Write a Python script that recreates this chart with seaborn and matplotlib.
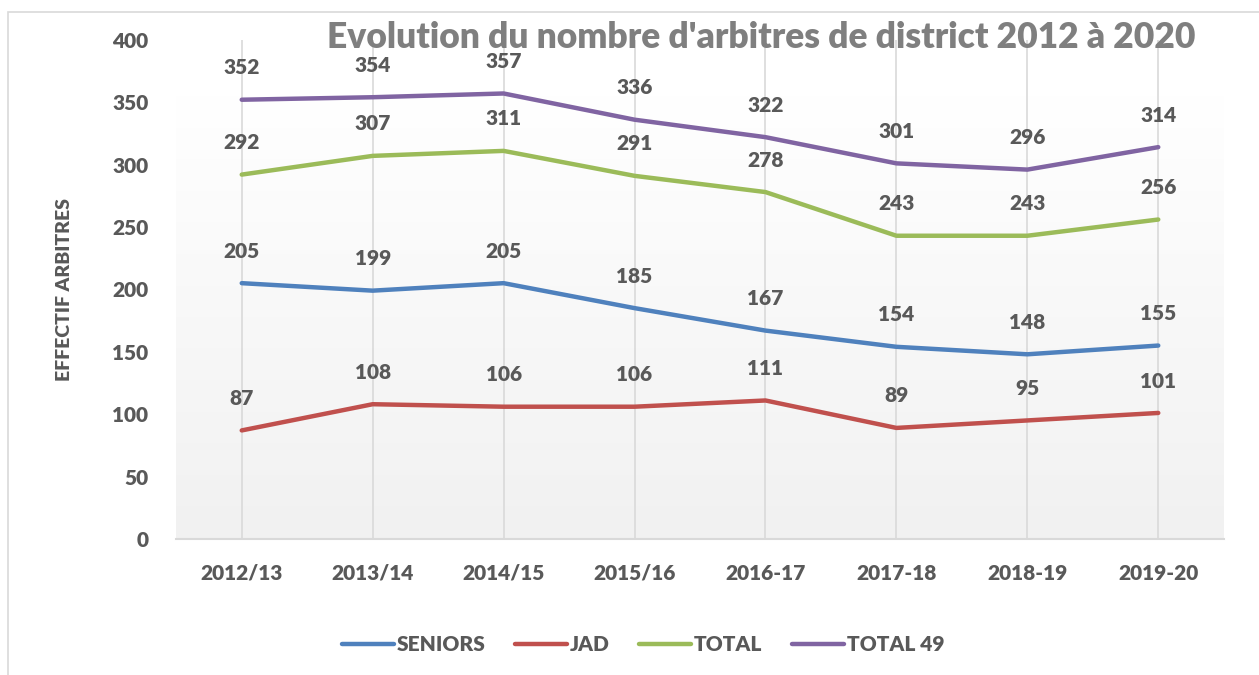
import numpy as np
import pandas as pd
import matplotlib
matplotlib.use("Agg")
import matplotlib.pyplot as plt
from matplotlib.patches import Rectangle
import seaborn as sns

saisons = ["2012/13", "2013/14", "2014/15", "2015/16", "2016-17", "2017-18", "2018-19", "2019-20"]
seniors = [205, 199, 205, 185, 167, 154, 148, 155]
jad = [87, 108, 106, 106, 111, 89, 95, 101]
total = [292, 307, 311, 291, 278, 243, 243, 256]
total_49 = [352, 354, 357, 336, 322, 301, 296, 314]

series = {"SENIORS": seniors, "JAD": jad, "TOTAL": total, "TOTAL 49": total_49}
couleurs = {"SENIORS": "#4f81bd", "JAD": "#c0504d", "TOTAL": "#9bbb59", "TOTAL 49": "#8064a2"}

df = pd.DataFrame([
    {"saison": s, "pos": i, "serie": nom, "valeur": v}
    for nom, vals in series.items()
    for i, (s, v) in enumerate(zip(saisons, vals))
])

sns.set_theme(style="white")
plt.rcParams["font.family"] = ["Lato", "DejaVu Sans"]
texte = "#595959"
poids = "heavy"

fig = plt.figure(figsize=(12.59, 6.75), dpi=100)
ax = fig.add_axes([0.140, 0.2015, 0.832, 0.7395])

# fond dégradé de la zone de tracé (blanc en haut, gris clair en bas)
grad = np.linspace(0.0, 1.0, 256).reshape(-1, 1)
ax.imshow(grad, extent=[-0.5, 7.5, 0, 355], aspect="auto", origin="lower",
          cmap=matplotlib.colors.LinearSegmentedColormap.from_list("g", ["#f1f1f1", "#ffffff"]),
          zorder=0)

for i in range(len(saisons)):
    ax.axvline(i, color="#d9d9d9", lw=1.2, zorder=1)

sns.lineplot(data=df, x="pos", y="valeur", hue="serie", palette=couleurs,
             linewidth=3.2, ax=ax, zorder=3, legend=True)

for nom, vals in series.items():
    for i, v in enumerate(vals):
        ax.annotate(str(v), (i, v), xytext=(0, 23), textcoords="offset points",
                    ha="center", va="center", fontsize=15, fontweight=poids,
                    color=texte, zorder=4)

ax.set_xlim(-0.5, 7.5)
ax.set_ylim(0, 400)
ax.set_yticks(range(0, 401, 50))
ax.set_xticks(range(len(saisons)))
ax.set_xticklabels(saisons)
ax.tick_params(axis="both", length=0, labelsize=15, labelcolor=texte)
ax.tick_params(axis="y", pad=20)
ax.tick_params(axis="x", pad=18)
for lab in ax.get_xticklabels() + ax.get_yticklabels():
    lab.set_fontweight(poids)

for side in ["top", "right", "left"]:
    ax.spines[side].set_visible(False)
ax.spines["bottom"].set_color("#d9d9d9")
ax.spines["bottom"].set_linewidth(1.5)

ax.set_xlabel("")
ax.set_ylabel("EFFECTIF ARBITRES", fontsize=14, fontweight=poids, color=texte, labelpad=28)

leg = ax.legend(loc="center", bbox_to_anchor=(0.4456, -0.212), ncol=4, frameon=False,
                fontsize=15, handlelength=2.5, handletextpad=0.15, columnspacing=1.4)
for t in leg.get_texts():
    t.set_fontweight(poids)
    t.set_color(texte)
for h in leg.get_lines():
    h.set_linewidth(3.2)

fig.text(0.605, 0.944, "Evolution du nombre d'arbitres de district 2012 à 2020",
         ha="center", va="center", fontsize=25.5, fontweight=poids, color="#7f7f7f")

fig.patches.append(Rectangle((8 / 1259, -0.01), 1.0, 1 - 12 / 675 + 0.01,
                             transform=fig.transFigure, fill=False,
                             edgecolor="#d9d9d9", lw=1.2))

fig.savefig("out.png", dpi=100)
